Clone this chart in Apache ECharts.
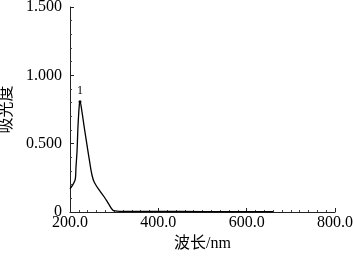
<!DOCTYPE html>
<html><head><meta charset="utf-8">
<script src="https://cdn.jsdelivr.net/npm/echarts@6/dist/echarts.min.js"></script>
<style>html,body{margin:0;padding:0;background:#fff}#c{width:353px;height:257px}</style>
</head><body><div id="c"></div>
<script>
var wavelengths = [200, 207.5, 212, 213.6, 216, 218, 221, 222.6, 227, 232, 238, 244, 250, 255, 266, 278, 287.5, 296.6, 302, 315, 340, 400, 500, 600, 660];
var absorbance  = [0.169, 0.206, 0.24, 0.33, 0.45, 0.62, 0.78, 0.807, 0.735, 0.625, 0.50, 0.377, 0.267, 0.218, 0.162, 0.108, 0.059, 0.015, 0.008, 0.005, 0.004, 0.004, 0.003, 0.003, 0.003];
var peakLabel = '1';
var xName = '波长/nm';
var yName = '吸光度';

var peakIdx = absorbance.indexOf(Math.max.apply(null, absorbance));
var data = wavelengths.map(function (w, i) {
  var d = { value: [w, absorbance[i]] };
  if (i === peakIdx) {
    d.label = { show: true, formatter: peakLabel, position: 'top', distance: 3,
      fontFamily: 'Liberation Serif', fontSize: 12, color: '#000' };
    d.symbol = 'circle'; d.symbolSize = 3;
    d.itemStyle = { color: '#000' };
  }
  return d;
});
var serif = 'Liberation Serif, Noto Sans CJK SC';
var chart = echarts.init(document.getElementById('c'));
chart.setOption({
  animation: false,
  grid: { left: 70, right: 18, top: 7, bottom: 45, containLabel: false, outerBoundsMode: 'none' },
  xAxis: {
    type: 'value', min: 200, max: 800, interval: 200,
    name: xName, nameLocation: 'middle', nameGap: 20,
    nameTextStyle: { fontFamily: serif, fontSize: 16, color: '#000' },
    axisLine: { lineStyle: { color: '#222', width: 1 } },
    axisTick: { inside: true, length: 4, lineStyle: { color: '#222' } },
    minorTick: { show: true, splitNumber: 10, length: 2, lineStyle: { color: '#444' } },
    splitLine: { show: false },
    axisLabel: { margin: 3, fontFamily: serif, fontSize: 16, color: '#000', hideOverlap: false,
      formatter: function (v) { return v.toFixed(1); } }
  },
  yAxis: {
    type: 'value', min: 0, max: 1.5, interval: 0.5,
    name: yName, nameLocation: 'middle', nameGap: 54,
    nameTextStyle: { fontFamily: serif, fontSize: 16, color: '#000' },
    axisLine: { show: true, lineStyle: { color: '#222', width: 1 } },
    axisTick: { show: true, inside: true, length: 4, lineStyle: { color: '#222' } },
    minorTick: { show: true, splitNumber: 5, length: 2, lineStyle: { color: '#444' } },
    splitLine: { show: false },
    axisLabel: { margin: 8, fontFamily: serif, fontSize: 16, color: '#000',
      formatter: function (v) { return v === 0 ? '0' : v.toFixed(3); } }
  },
  series: [{
    type: 'line', data: data, smooth: 0.4, showSymbol: true, symbol: 'none',
    lineStyle: { color: '#000', width: 1.3 }
  }]
});
</script></body></html>
